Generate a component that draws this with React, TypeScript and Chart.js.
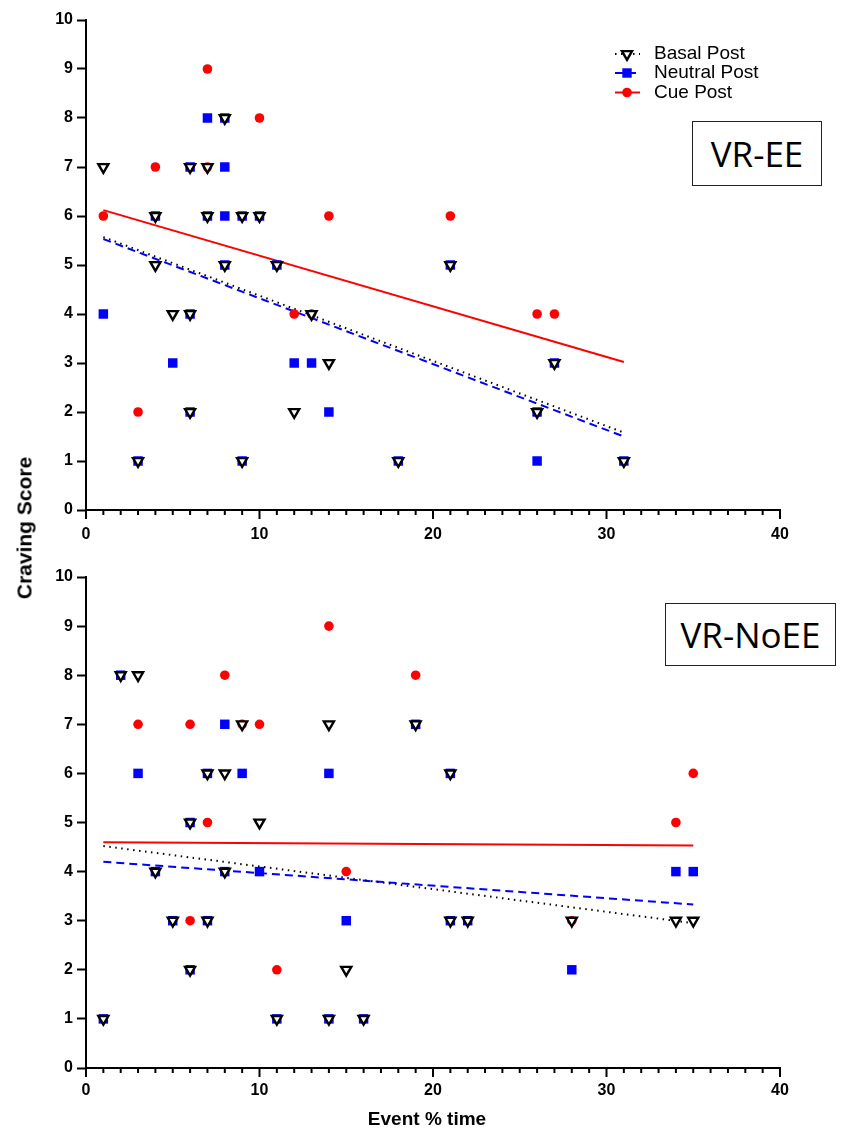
import React, { useEffect, useRef } from "react";
import { Chart, registerables } from "chart.js";

Chart.register(...registerables);

// ---------- DATA ----------
const seriesNames = ["Basal Post", "Neutral Post", "Cue Post"];
const xTickStep = 10;
const xRange = [0, 40];
const yRange = [0, 10];

// VR-EE panel
const eeBasal: [number, number][] = [
  [1, 7], [3, 1], [4, 6], [4, 5], [5, 4], [6, 7], [6, 4], [6, 2], [7, 7], [7, 6],
  [8, 8], [8, 5], [9, 6], [9, 1], [10, 6], [11, 5], [12, 2], [13, 4], [14, 3],
  [18, 1], [21, 5], [26, 2], [27, 3], [31, 1],
];
const eeNeutral: [number, number][] = [
  [1, 4], [3, 1], [4, 6], [5, 3], [6, 7], [6, 4], [6, 2], [7, 8], [7, 6], [8, 8],
  [8, 7], [8, 6], [8, 5], [9, 6], [9, 1], [10, 6], [11, 5], [12, 3], [13, 3],
  [14, 2], [18, 1], [21, 5], [26, 2], [26, 1], [27, 3], [31, 1],
];
const eeCue: [number, number][] = [
  [1, 6], [3, 2], [4, 7], [7, 9], [7, 7], [10, 8], [12, 4], [13, 4], [14, 6],
  [21, 6], [26, 4], [27, 4],
];
const eeFitX = [1, 31];
const eeFitBasal = [5.57, 1.58];
const eeFitNeutral = [5.53, 1.5];
const eeFitCue = [6.12, 3.02];

// VR-NoEE panel
const noBasal: [number, number][] = [
  [1, 1], [2, 8], [3, 8], [4, 4], [5, 3], [6, 5], [6, 2], [7, 6], [7, 3], [8, 6],
  [8, 4], [9, 7], [10, 5], [11, 1], [14, 7], [14, 1], [15, 2], [16, 1], [19, 7],
  [21, 6], [21, 3], [22, 3], [28, 3], [34, 3], [35, 3],
];
const noNeutral: [number, number][] = [
  [1, 1], [2, 8], [3, 6], [4, 4], [5, 3], [6, 5], [6, 2], [7, 6], [7, 3], [8, 7],
  [8, 4], [9, 6], [10, 4], [11, 1], [14, 6], [14, 1], [15, 3], [16, 1], [19, 7],
  [21, 6], [21, 3], [22, 3], [28, 2], [34, 4], [35, 4],
];
const noCue: [number, number][] = [
  [3, 7], [6, 7], [6, 3], [7, 5], [8, 8], [9, 7], [10, 7], [11, 2], [14, 9],
  [15, 4], [19, 8], [28, 3], [34, 5], [35, 6],
];
const noFitX = [1, 35];
const noFitBasal = [4.52, 2.95];
const noFitNeutral = [4.2, 3.33];
const noFitCue = [4.6, 4.53];

// ---------- STYLE ----------
const FONT = "'Liberation Sans', Arial, Helvetica, sans-serif";
const BLACK = "#000000";
const BLUE = "#0000ff";
const RED = "#ff0000";
const TRI_R = 5.8;
const TRI_W = 2.4;

const toPts = (arr: [number, number][]) => arr.map(([x, y]) => ({ x, y }));
const fitPts = (xs: number[], ys: number[]) => xs.map((x, i) => ({ x, y: ys[i] }));

const xTicksPlugin = {
  id: "xTicksPlugin",
  afterDraw(chart: any) {
    const s = chart.scales.x;
    const ctx = chart.ctx;
    ctx.save();
    ctx.strokeStyle = BLACK;
    ctx.lineWidth = 2;
    for (let v = Math.ceil(s.min); v <= s.max; v++) {
      const px = s.getPixelForValue(v);
      const major = v % xTickStep === 0;
      ctx.beginPath();
      ctx.moveTo(px, s.top);
      ctx.lineTo(px, s.top + (major ? 9 : 5));
      ctx.stroke();
    }
    ctx.restore();
  },
};

const legendPlugin = {
  id: "customLegend",
  afterDraw(chart: any, _args: any, opts: any) {
    if (!opts || !opts.show) return;
    const ctx = chart.ctx;
    const rows = [54, 73, 92.5];
    const x0 = 615;
    const x1 = 640;
    const mx = 627;
    ctx.save();
    seriesNames.forEach((name, i) => {
      const y = rows[i];
      const lineDs = chart.data.datasets[3 + i];
      ctx.strokeStyle = lineDs.borderColor;
      ctx.lineWidth = 2;
      ctx.setLineDash(lineDs.borderDash || []);
      ctx.beginPath();
      ctx.moveTo(x0, y);
      ctx.lineTo(x1, y);
      ctx.stroke();
      ctx.setLineDash([]);
      if (i === 0) {
        const r = TRI_R;
        ctx.fillStyle = "#fff";
        ctx.strokeStyle = BLACK;
        ctx.lineWidth = TRI_W;
        ctx.beginPath();
        ctx.moveTo(mx, y + r);
        ctx.lineTo(mx - r * 0.866, y - r * 0.5);
        ctx.lineTo(mx + r * 0.866, y - r * 0.5);
        ctx.closePath();
        ctx.fill();
        ctx.stroke();
      } else if (i === 1) {
        ctx.fillStyle = BLUE;
        ctx.fillRect(mx - 4.7, y - 4.7, 9.4, 9.4);
      } else {
        ctx.fillStyle = RED;
        ctx.beginPath();
        ctx.arc(mx, y, 4.8, 0, Math.PI * 2);
        ctx.fill();
      }
      ctx.fillStyle = BLACK;
      ctx.font = `19px ${FONT}`;
      ctx.textBaseline = "middle";
      ctx.textAlign = "left";
      ctx.fillText(name, 654, y);
    });
    ctx.restore();
  },
};

function makeConfig(
  basal: [number, number][],
  neutral: [number, number][],
  cue: [number, number][],
  fitX: number[],
  fits: number[][],
  layout: { top: number; xHeight: number; labelPad: number; legend: boolean }
): any {
  const tickFont = { family: FONT, size: 16, weight: "bold" as const };
  return {
    type: "scatter",
    data: {
      datasets: [
        {
          label: seriesNames[0],
          data: toPts(basal),
          pointStyle: "triangle",
          rotation: 180,
          pointRadius: TRI_R,
          backgroundColor: "#ffffff",
          borderColor: BLACK,
          borderWidth: TRI_W,
          order: 0,
        },
        {
          label: seriesNames[1],
          data: toPts(neutral),
          pointStyle: "rect",
          pointRadius: 6.7,
          backgroundColor: BLUE,
          borderColor: BLUE,
          borderWidth: 0,
          order: 1,
        },
        {
          label: seriesNames[2],
          data: toPts(cue),
          pointStyle: "circle",
          pointRadius: 4.8,
          backgroundColor: RED,
          borderColor: RED,
          borderWidth: 0,
          order: 2,
        },
        {
          type: "line",
          label: seriesNames[0] + " fit",
          data: fitPts(fitX, fits[0]),
          borderColor: BLACK,
          borderWidth: 2,
          borderDash: [1.5, 4.5],
          pointRadius: 0,
          fill: false,
          order: 3,
        },
        {
          type: "line",
          label: seriesNames[1] + " fit",
          data: fitPts(fitX, fits[1]),
          borderColor: BLUE,
          borderWidth: 2,
          borderDash: [8, 5],
          pointRadius: 0,
          fill: false,
          order: 4,
        },
        {
          type: "line",
          label: seriesNames[2] + " fit",
          data: fitPts(fitX, fits[2]),
          borderColor: RED,
          borderWidth: 2,
          pointRadius: 0,
          fill: false,
          order: 5,
        },
      ],
    },
    options: {
      responsive: false,
      animation: false,
      events: [],
      layout: { padding: { top: layout.top, bottom: 0, left: 8, right: 63 } },
      plugins: {
        legend: { display: false },
        tooltip: { enabled: false },
        customLegend: { show: layout.legend },
      },
      scales: {
        x: {
          type: "linear",
          min: xRange[0],
          max: xRange[1],
          afterFit: (s: any) => {
            s.height = layout.xHeight;
          },
          grid: { display: false, drawTicks: false },
          border: { display: true, color: BLACK, width: 2 },
          ticks: {
            stepSize: xTickStep,
            color: BLACK,
            font: tickFont,
            padding: layout.labelPad,
            maxRotation: 0,
          },
        },
        y: {
          type: "linear",
          min: yRange[0],
          max: yRange[1],
          afterFit: (s: any) => {
            s.width = 78;
          },
          grid: {
            display: true,
            drawOnChartArea: false,
            drawTicks: true,
            tickLength: 9,
            tickColor: BLACK,
            tickWidth: 2,
          },
          border: { display: true, color: BLACK, width: 2 },
          ticks: { stepSize: 1, color: BLACK, font: tickFont, padding: 4 },
        },
      },
    },
    plugins: [xTicksPlugin, legendPlugin],
  };
}

function Panel(props: { cfg: any; top: number; height: number }) {
  const ref = useRef<HTMLCanvasElement | null>(null);
  useEffect(() => {
    if (!ref.current) return;
    const chart = new Chart(ref.current, props.cfg);
    return () => chart.destroy();
  }, []);
  return (
    <canvas
      ref={ref}
      width={843}
      height={props.height}
      style={{ position: "absolute", left: 0, top: props.top, width: 843, height: props.height }}
    />
  );
}

export default function App() {
  const topCfg = makeConfig(eeBasal, eeNeutral, eeCue, eeFitX, [eeFitBasal, eeFitNeutral, eeFitCue], {
    top: 20,
    xHeight: 40,
    labelPad: 15,
    legend: true,
  });
  const botCfg = makeConfig(noBasal, noNeutral, noCue, noFitX, [noFitBasal, noFitNeutral, noFitCue], {
    top: 27,
    xHeight: 60,
    labelPad: 13,
    legend: false,
  });
  const boxStyle: React.CSSProperties = {
    position: "absolute",
    boxSizing: "border-box",
    border: "1.5px solid #222",
    background: "#fff",
    display: "flex",
    alignItems: "center",
    justifyContent: "center",
    fontFamily: "'Open Sans', 'Noto Sans', sans-serif",
    fontSize: 35,
    color: "#000",
    lineHeight: 1,
  };
  return (
    <div style={{ position: "absolute", left: 0, top: 0, width: 843, height: 1128, background: "#fff", overflow: "hidden" }}>
      <Panel cfg={topCfg} top={0} height={550} />
      <Panel cfg={botCfg} top={550} height={578} />
      <div style={{ ...boxStyle, left: 692, top: 121, width: 130, height: 65 }}>VR-EE</div>
      <div style={{ ...boxStyle, left: 665, top: 603, width: 171, height: 63 }}>VR-NoEE</div>
      <div
        style={{
          position: "absolute",
          left: 24,
          top: 528,
          transform: "translate(-50%, -50%) rotate(-90deg)",
          whiteSpace: "nowrap",
          fontFamily: FONT,
          fontWeight: "bold",
          fontSize: 21,
          color: "#000",
          lineHeight: 1,
        }}
      >
        Craving Score
      </div>
      <div
        style={{
          position: "absolute",
          left: 427,
          top: 1118,
          transform: "translate(-50%, -50%)",
          whiteSpace: "nowrap",
          fontFamily: FONT,
          fontWeight: "bold",
          fontSize: 19,
          color: "#000",
          lineHeight: 1,
        }}
      >
        Event % time
      </div>
    </div>
  );
}
